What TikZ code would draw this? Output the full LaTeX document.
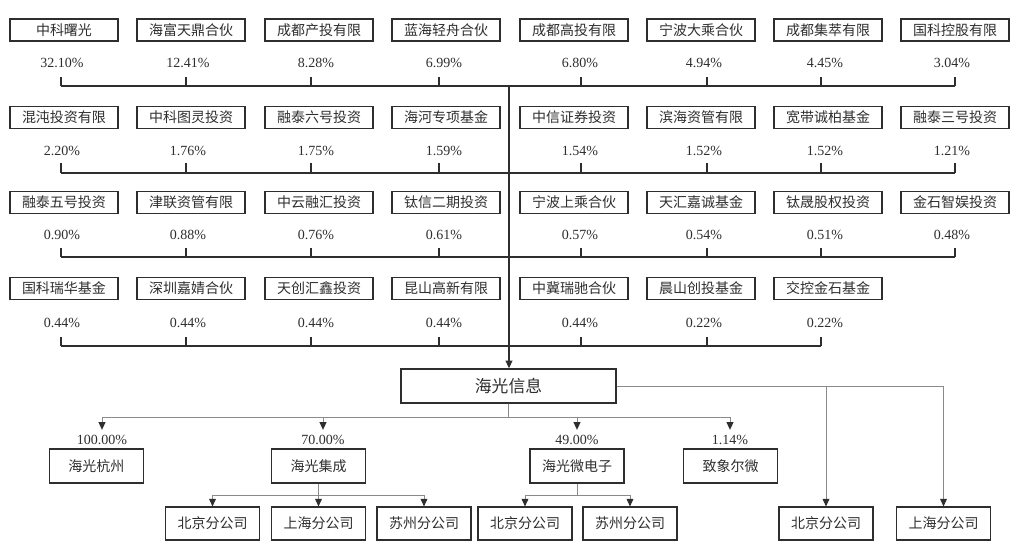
\documentclass[tikz,border=0pt]{standalone}
\usepackage{fontspec}
\setmainfont{Liberation Serif}
\newfontfamily\cjk{Noto Sans CJK SC}
\usetikzlibrary{arrows.meta}
\definecolor{ink}{HTML}{2E2E2E}
\definecolor{wire}{HTML}{8A8A8A}
\begin{document}
\begin{tikzpicture}[x=0.5pt, y=-0.5pt, line join=miter, >={Triangle[length=3.8pt,width=3.4pt,color=ink]},
 holder/.style={draw=ink, line width=0.55pt, minimum width=54pt, minimum height=11pt, inner sep=0pt, text=ink, font=\cjk\fontsize{7}{8}\selectfont},
 firm/.style={holder, minimum width=47pt, minimum height=17pt},
 branch/.style={holder, minimum width=47pt, minimum height=16.5pt},
 main/.style={holder, line width=0.7pt, minimum width=107.5pt, minimum height=17pt, font=\cjk\fontsize{8.4}{9}\selectfont},
 pct/.style={inner sep=0pt, text=ink, font=\fontsize{7}{8}\selectfont},
 bus/.style={draw=ink, line width=0.55pt},
 wire/.style={draw=wire, line width=0.5pt}]
 \useasboundingbox (0,0) rectangle (1024,556);
 \def\cx{{64,191,319,446,574,701,828,955}}
 \def\tx{{61,186,311,439,581,707,821,955}}
 \def\px{{62,188,316,444,580,704,825,952}}
 % shareholders
 \foreach \n/\p [count=\i] in {中科曙光/32.10,海富天鼎合伙/12.41,成都产投有限/8.28,蓝海轻舟合伙/6.99,成都高投有限/6.80,宁波大乘合伙/4.94,成都集萃有限/4.45,国科控股有限/3.04} {
 \pgfmathsetmacro\c{\cx[\i-1]}\pgfmathsetmacro\t{\tx[\i-1]}\pgfmathsetmacro\q{\px[\i-1]}
 \node[holder] (a\i) at (\c,30) {\n};
 \node[pct] (pa\i) at (\q,63) {\p\%};
 \coordinate (ba\i) at (\t,86);
 \draw[bus] (\t,77) -- (ba\i);
 }
 \draw[bus] (ba1) -- (ba8);
 \foreach \n/\p [count=\i] in {混沌投资有限/2.20,中科图灵投资/1.76,融泰六号投资/1.75,海河专项基金/1.59,中信证券投资/1.54,滨海资管有限/1.52,宽带诚柏基金/1.52,融泰三号投资/1.21} {
 \pgfmathsetmacro\c{\cx[\i-1]}\pgfmathsetmacro\t{\tx[\i-1]}\pgfmathsetmacro\q{\px[\i-1]}
 \node[holder] (b\i) at (\c,117.5) {\n};
 \node[pct] (pb\i) at (\q,151) {\p\%};
 \coordinate (bb\i) at (\t,173);
 \draw[bus] (\t,163) -- (bb\i);
 }
 \draw[bus] (bb1) -- (bb8);
 \foreach \n/\p [count=\i] in {融泰五号投资/0.90,津联资管有限/0.88,中云融汇投资/0.76,钛信二期投资/0.61,宁波上乘合伙/0.57,天汇嘉诚基金/0.54,钛晟股权投资/0.51,金石智娱投资/0.48} {
 \pgfmathsetmacro\c{\cx[\i-1]}\pgfmathsetmacro\t{\tx[\i-1]}\pgfmathsetmacro\q{\px[\i-1]}
 \node[holder] (c\i) at (\c,202.5) {\n};
 \node[pct] (pc\i) at (\q,235) {\p\%};
 \coordinate (bc\i) at (\t,257);
 \draw[bus] (\t,248) -- (bc\i);
 }
 \draw[bus] (bc1) -- (bc8);
 \foreach \n/\p [count=\i] in {国科瑞华基金/0.44,深圳嘉婧合伙/0.44,天创汇鑫投资/0.44,昆山高新有限/0.44,中冀瑞驰合伙/0.44,晨山创投基金/0.22,交控金石基金/0.22} {
 \pgfmathsetmacro\c{\cx[\i-1]}\pgfmathsetmacro\t{\tx[\i-1]}\pgfmathsetmacro\q{\px[\i-1]}
 \node[holder] (d\i) at (\c,288.5) {\n};
 \node[pct] (pd\i) at (\q,323) {\p\%};
 \coordinate (bd\i) at (\t,346);
 \draw[bus] (\t,337) -- (bd\i);
 }
 \draw[bus] (bd1) -- (bd7);
 % company
 \node[main] (hg) at (508.5,386) {海光信息};
 \coordinate (trunk) at (509,86);
 \draw[bus,->] (trunk) -- (trunk |- hg.north);
 % subsidiaries
 \foreach \n/\p/\x/\a [count=\i] in {海光杭州/100.00/96.5/102,海光集成/70.00/318.5/323,海光微电子/49.00/577/577,致象尔微/1.14/730.5/730} {
 \node[firm] (s\i) at (\x,466) {\n};
 \node[pct] (ps\i) at (\a,440) {\p\%};
 \draw[wire,->,shorten >=2.5pt] (hg.south) -- ++(0,14) -| (ps\i.north);
 }
 \foreach \n/\x [count=\j] in {北京分公司/212.5,上海分公司/318.5,苏州分公司/424} {
 \node[branch] (j\j) at (\x,523.5) {\n};
 \draw[wire,->] (s2.south) -- ++(0,12) -| (j\j.north);
 }
 \foreach \n/\x [count=\j] in {北京分公司/525,苏州分公司/630} {
 \node[branch] (w\j) at (\x,523.5) {\n};
 \draw[wire,->] (s3.south) -- ++(0,12) -| (w\j.north);
 }
 \foreach \n/\x [count=\j] in {北京分公司/826,上海分公司/943.5} {
 \node[branch] (r\j) at (\x,523.5) {\n};
 \draw[wire,->] (hg.east) -| (r\j.north);
 }
\end{tikzpicture}
\end{document}
